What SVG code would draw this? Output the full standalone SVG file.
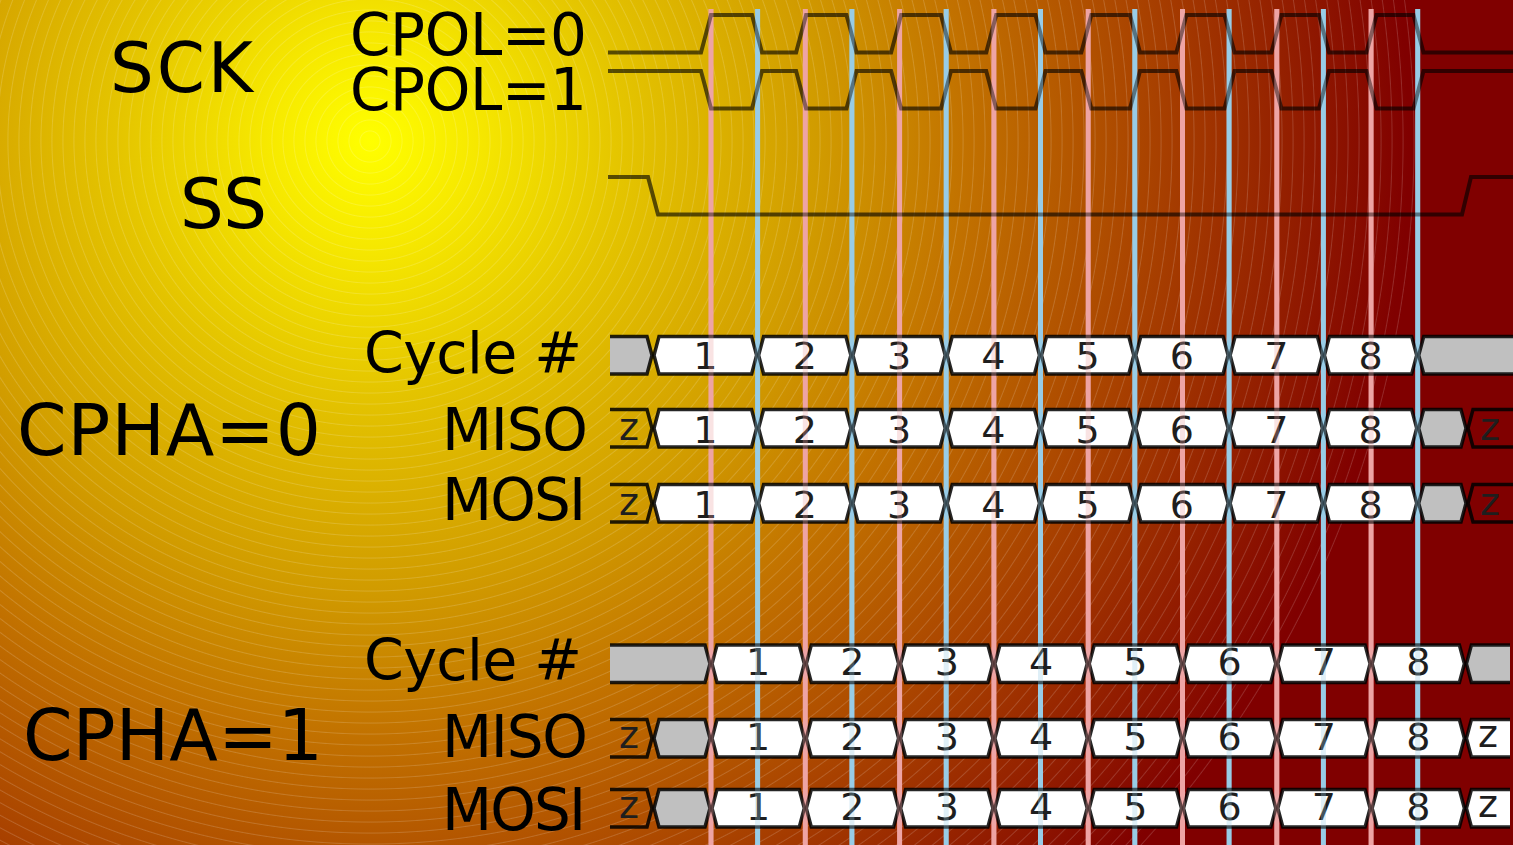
<svg xmlns="http://www.w3.org/2000/svg" xmlns:xlink="http://www.w3.org/1999/xlink" width="1513" height="845" viewBox="0 0 1513 845">
<style>
.lbl{font-family:"DejaVu Sans","Liberation Sans",sans-serif;fill:#000}
.num{font-family:"DejaVu Sans","Liberation Sans",sans-serif;font-size:38px;fill:#1e1e1e;text-anchor:middle}
.wave{fill:none;stroke:#000;stroke-opacity:0.62;stroke-width:4;stroke-linejoin:miter}
.box{fill:#fff;stroke:#000;stroke-opacity:0.85;stroke-width:3.5}
.gray{fill:#c0c0c0;stroke:#000;stroke-opacity:0.85;stroke-width:3.5}
.zz{fill:none;stroke:#000;stroke-opacity:0.85;stroke-width:3.5}
.pk{fill:none;stroke:#eea4a4;stroke-width:5}
.bl{fill:none;stroke:#98cce6;stroke-width:5}
</style>
<defs>
<radialGradient id="bg" gradientUnits="userSpaceOnUse" cx="370" cy="141" r="1060">
<stop offset="0" stop-color="#ffff00"/>
<stop offset="0.1" stop-color="#f6e800"/>
<stop offset="0.24" stop-color="#e4c400"/>
<stop offset="0.42" stop-color="#d19c00"/>
<stop offset="0.56" stop-color="#c27200"/>
<stop offset="0.73" stop-color="#aa4400"/>
<stop offset="0.9" stop-color="#8e1600"/>
<stop offset="0.98" stop-color="#800000"/>
</radialGradient>
<radialGradient id="rings" gradientUnits="userSpaceOnUse" cx="370" cy="141" r="11" spreadMethod="repeat">
<stop offset="0" stop-color="#fff" stop-opacity="0"/>
<stop offset="0.82" stop-color="#fff" stop-opacity="0"/>
<stop offset="0.92" stop-color="#fff" stop-opacity="0.16"/>
<stop offset="1" stop-color="#fff" stop-opacity="0"/>
</radialGradient>
<path id="bx" d="M1,18.75 L6,0 H88.3 L93.3,18.75 L88.3,37.5 H6 Z"/>
</defs>

<g id="background">
<rect x="0" y="0" width="1513" height="845" fill="url(#bg)"/>
<circle cx="370" cy="141" r="1050" fill="url(#rings)"/>
</g>

<g id="guides">
<path class="pk" d="M711,9V845M805.3,9V845M899.6,9V845M993.9,9V845M1088.2,9V845M1182.5,9V845M1276.8,9V845M1371.1,9V845"/>
<path class="bl" d="M757.6,9V845M851.9,9V845M946.2,9V845M1040.5,9V845M1134.8,9V845M1229.1,9V845M1323.4,9V845M1417.7,9V845"/>
</g>

<g id="labels">
<text class="lbl" x="110" y="92" font-size="69" textLength="143">SCK</text>
<text class="lbl" x="350" y="55" font-size="58" textLength="237">CPOL=0</text>
<text class="lbl" x="350" y="110" font-size="58" textLength="237">CPOL=1</text>
<text class="lbl" x="180" y="228" font-size="69" textLength="87">SS</text>
<text class="lbl" x="364" y="373" font-size="57" textLength="218">Cycle #</text>
<text class="lbl" x="17" y="455" font-size="71" textLength="304">CPHA=0</text>
<text class="lbl" x="442" y="450" font-size="58" textLength="146">MISO</text>
<text class="lbl" x="442" y="520" font-size="58" textLength="144">MOSI</text>
<text class="lbl" x="364" y="680" font-size="57" textLength="218">Cycle #</text>
<text class="lbl" x="23" y="760" font-size="71" textLength="300">CPHA=1</text>
<text class="lbl" x="442" y="757" font-size="58" textLength="146">MISO</text>
<text class="lbl" x="442" y="830" font-size="58" textLength="144">MOSI</text>
</g>

<g id="sck">
<path id="sck-cpol0" class="wave" d="M608,52.5 H701 L711,15 H752 L762,52.5 H796.1 L806.1,15 H846.5 L856.5,52.5 H891.1 L901.1,15 H941 L951,52.5 H986.2 L996.2,15 H1035.5 L1045.5,52.5 H1081.3 L1091.3,15 H1130 L1140,52.5 H1176.4 L1186.4,15 H1224.5 L1234.5,52.5 H1271.4 L1281.4,15 H1319 L1329,52.5 H1366.5 L1376.5,15 H1413.5 L1423.5,52.5 H1513"/>
<path id="sck-cpol1" class="wave" d="M608,71 H701 L711,108.5 H752 L762,71 H796.1 L806.1,108.5 H846.5 L856.5,71 H891.1 L901.1,108.5 H941 L951,71 H986.2 L996.2,108.5 H1035.5 L1045.5,71 H1081.3 L1091.3,108.5 H1130 L1140,71 H1176.4 L1186.4,108.5 H1224.5 L1234.5,71 H1271.4 L1281.4,108.5 H1319 L1329,71 H1366.5 L1376.5,108.5 H1413.5 L1423.5,71 H1513"/>
</g>

<g id="ss">
<path class="wave" d="M608,177 H648 L658,214.5 H1462 L1471,177 H1513"/>
</g>

<g id="cpha0-cycle" transform="translate(0,336.5)">
<path class="gray" d="M610,0 H647 L652,18.75 L647,37.5 H610"/>
<path class="box" d="M654,18.75 L659,0 H751.6 L756.6,18.75 L751.6,37.5 H659 Z"/>
<use class="box" xlink:href="#bx" x="757.6"/><use class="box" xlink:href="#bx" x="851.9"/><use class="box" xlink:href="#bx" x="946.2"/><use class="box" xlink:href="#bx" x="1040.5"/><use class="box" xlink:href="#bx" x="1134.8"/><use class="box" xlink:href="#bx" x="1229.1"/><use class="box" xlink:href="#bx" x="1323.4"/>
<path class="gray" d="M1513,0 H1423.7 L1418.7,18.75 L1423.7,37.5 H1513"/>
<g class="num"><text x="705.3" y="32">1</text><text x="804.75" y="32">2</text><text x="899.05" y="32">3</text><text x="993.35" y="32">4</text><text x="1087.65" y="32">5</text><text x="1181.95" y="32">6</text><text x="1276.25" y="32">7</text><text x="1370.55" y="32">8</text></g>
</g>

<g id="cpha0-miso" transform="translate(0,409.5)">
<path class="zz" d="M610,0 H647 L652,18.75 L647,37.5 H610"/>
<path class="box" d="M654,18.75 L659,0 H751.6 L756.6,18.75 L751.6,37.5 H659 Z"/>
<use class="box" xlink:href="#bx" x="757.6"/><use class="box" xlink:href="#bx" x="851.9"/><use class="box" xlink:href="#bx" x="946.2"/><use class="box" xlink:href="#bx" x="1040.5"/><use class="box" xlink:href="#bx" x="1134.8"/><use class="box" xlink:href="#bx" x="1229.1"/><use class="box" xlink:href="#bx" x="1323.4"/>
<path class="gray" d="M1418.7,18.75 L1423.7,0 H1461 L1466,18.75 L1461,37.5 H1423.7 Z"/>
<path class="zz" d="M1513,0 H1473 L1468,18.75 L1473,37.5 H1513"/>
<g class="num"><text x="629" y="30">z</text><text x="705.3" y="33">1</text><text x="804.75" y="33">2</text><text x="899.05" y="33">3</text><text x="993.35" y="33">4</text><text x="1087.65" y="33">5</text><text x="1181.95" y="33">6</text><text x="1276.25" y="33">7</text><text x="1370.55" y="33">8</text><text x="1490" y="30">z</text></g>
</g>

<g id="cpha0-mosi" transform="translate(0,484.5)">
<path class="zz" d="M610,0 H647 L652,18.75 L647,37.5 H610"/>
<path class="box" d="M654,18.75 L659,0 H751.6 L756.6,18.75 L751.6,37.5 H659 Z"/>
<use class="box" xlink:href="#bx" x="757.6"/><use class="box" xlink:href="#bx" x="851.9"/><use class="box" xlink:href="#bx" x="946.2"/><use class="box" xlink:href="#bx" x="1040.5"/><use class="box" xlink:href="#bx" x="1134.8"/><use class="box" xlink:href="#bx" x="1229.1"/><use class="box" xlink:href="#bx" x="1323.4"/>
<path class="gray" d="M1418.7,18.75 L1423.7,0 H1461 L1466,18.75 L1461,37.5 H1423.7 Z"/>
<path class="zz" d="M1513,0 H1473 L1468,18.75 L1473,37.5 H1513"/>
<g class="num"><text x="629" y="30">z</text><text x="705.3" y="33">1</text><text x="804.75" y="33">2</text><text x="899.05" y="33">3</text><text x="993.35" y="33">4</text><text x="1087.65" y="33">5</text><text x="1181.95" y="33">6</text><text x="1276.25" y="33">7</text><text x="1370.55" y="33">8</text><text x="1490" y="30">z</text></g>
</g>

<g id="cpha1-cycle" transform="translate(0,645)">
<path class="gray" d="M610,0 H705 L710,18.75 L705,37.5 H610"/>
<use class="box" xlink:href="#bx" x="711"/><use class="box" xlink:href="#bx" x="805.3"/><use class="box" xlink:href="#bx" x="899.6"/><use class="box" xlink:href="#bx" x="993.9"/><use class="box" xlink:href="#bx" x="1088.2"/><use class="box" xlink:href="#bx" x="1182.5"/><use class="box" xlink:href="#bx" x="1276.8"/><use class="box" xlink:href="#bx" x="1371.1"/>
<path class="gray" d="M1510,0 H1471.4 L1466.4,18.75 L1471.4,37.5 H1510"/>
<g class="num"><text x="758.15" y="30">1</text><text x="852.45" y="30">2</text><text x="946.75" y="30">3</text><text x="1041.05" y="30">4</text><text x="1135.35" y="30">5</text><text x="1229.65" y="30">6</text><text x="1323.95" y="30">7</text><text x="1418.25" y="30">8</text></g>
</g>

<g id="cpha1-miso" transform="translate(0,719.5)">
<path class="zz" d="M610,0 H647 L652,18.75 L647,37.5 H610"/>
<path class="gray" d="M654,18.75 L659,0 H705 L710,18.75 L705,37.5 H659 Z"/>
<use class="box" xlink:href="#bx" x="711"/><use class="box" xlink:href="#bx" x="805.3"/><use class="box" xlink:href="#bx" x="899.6"/><use class="box" xlink:href="#bx" x="993.9"/><use class="box" xlink:href="#bx" x="1088.2"/><use class="box" xlink:href="#bx" x="1182.5"/><use class="box" xlink:href="#bx" x="1276.8"/><use class="box" xlink:href="#bx" x="1371.1"/>
<path class="box" d="M1510,0 H1471.4 L1466.4,18.75 L1471.4,37.5 H1510"/>
<g class="num"><text x="629" y="28">z</text><text x="758.15" y="30">1</text><text x="852.45" y="30">2</text><text x="946.75" y="30">3</text><text x="1041.05" y="30">4</text><text x="1135.35" y="30">5</text><text x="1229.65" y="30">6</text><text x="1323.95" y="30">7</text><text x="1418.25" y="30">8</text><text x="1488" y="27">z</text></g>
</g>

<g id="cpha1-mosi" transform="translate(0,789.5)">
<path class="zz" d="M610,0 H647 L652,18.75 L647,37.5 H610"/>
<path class="gray" d="M654,18.75 L659,0 H705 L710,18.75 L705,37.5 H659 Z"/>
<use class="box" xlink:href="#bx" x="711"/><use class="box" xlink:href="#bx" x="805.3"/><use class="box" xlink:href="#bx" x="899.6"/><use class="box" xlink:href="#bx" x="993.9"/><use class="box" xlink:href="#bx" x="1088.2"/><use class="box" xlink:href="#bx" x="1182.5"/><use class="box" xlink:href="#bx" x="1276.8"/><use class="box" xlink:href="#bx" x="1371.1"/>
<path class="box" d="M1510,0 H1471.4 L1466.4,18.75 L1471.4,37.5 H1510"/>
<g class="num"><text x="629" y="28">z</text><text x="758.15" y="30">1</text><text x="852.45" y="30">2</text><text x="946.75" y="30">3</text><text x="1041.05" y="30">4</text><text x="1135.35" y="30">5</text><text x="1229.65" y="30">6</text><text x="1323.95" y="30">7</text><text x="1418.25" y="30">8</text><text x="1488" y="27">z</text></g>
</g>

<g id="guides-overlay" opacity="0.3">
<path class="pk" d="M711,9V845M805.3,9V845M899.6,9V845M993.9,9V845M1088.2,9V845M1182.5,9V845M1276.8,9V845M1371.1,9V845"/>
<path class="bl" d="M757.6,9V845M851.9,9V845M946.2,9V845M1040.5,9V845M1134.8,9V845M1229.1,9V845M1323.4,9V845M1417.7,9V845"/>
</g>
</svg>
